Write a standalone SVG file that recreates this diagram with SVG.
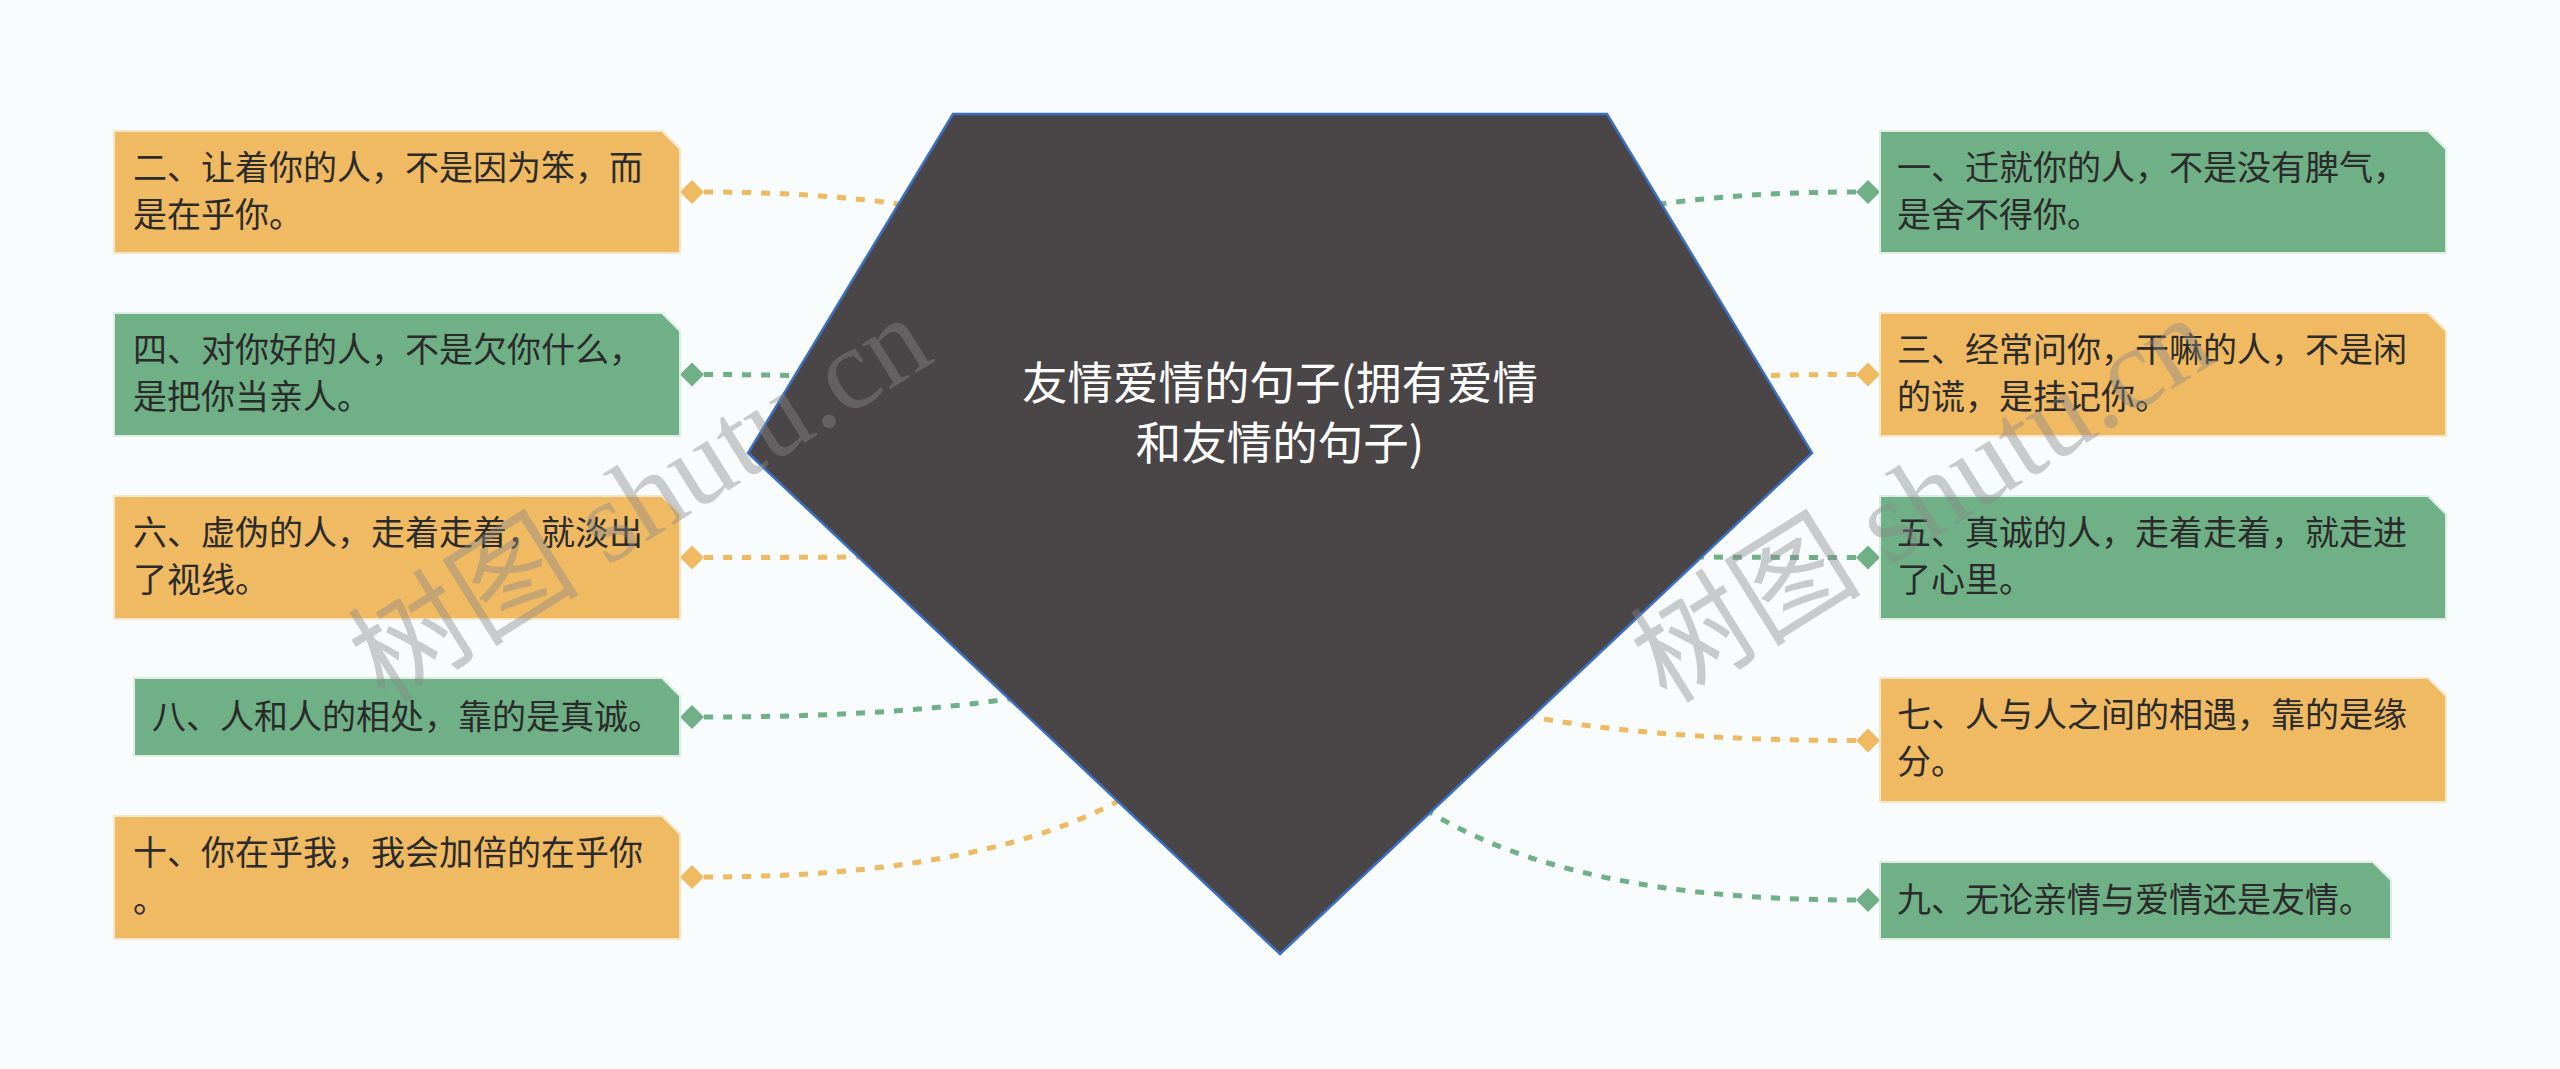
<svg xmlns="http://www.w3.org/2000/svg" width="2560" height="1069" viewBox="0 0 2560 1069">
<style>
.bg{fill:#F8FCFC}
.or{fill:#F0BA62;stroke:#F6E6C8;stroke-width:2}
.gr{fill:#70B087;stroke:#DCEDE2;stroke-width:2}
.t{font-family:"Noto Sans CJK SC","Noto Sans",sans-serif;font-size:34px;fill:#2B2B2B}
.ct{font-family:"Noto Sans CJK SC","Noto Sans",sans-serif;font-size:45.5px;fill:#FFFFFF;text-anchor:middle}
.lo{fill:none;stroke:#F0BA62;stroke-width:5;stroke-dasharray:9 10}
.lg{fill:none;stroke:#70B087;stroke-width:5;stroke-dasharray:9 10}
.dor{fill:#F0BA62}
.dgr{fill:#70B087}
.wm{font-family:"Liberation Serif","Noto Sans CJK SC",serif;font-size:116px;fill:#888888;opacity:0.42}
</style>
<rect class="bg" x="0" y="0" width="2560" height="1069"/>

<g id="connectors">
<path class="lo" d="M704 192 Q1280 192 1280 534"/>
<path class="lg" d="M704 374.5 Q1280 374.5 1280 534"/>
<path class="lo" d="M704 557.5 Q1280 557.5 1280 534"/>
<path class="lg" d="M704 717 Q1280 717 1280 534"/>
<path class="lo" d="M704 877 Q1280 877 1280 534"/>
<path class="lg" d="M1856 192 Q1280 192 1280 534"/>
<path class="lo" d="M1856 374.5 Q1280 374.5 1280 534"/>
<path class="lg" d="M1856 557.5 Q1280 557.5 1280 534"/>
<path class="lo" d="M1856 740.5 Q1280 740.5 1280 534"/>
<path class="lg" d="M1856 900 Q1280 900 1280 534"/>
<polygon class="dor" points="680,192 692,180 704,192 692,204"/>
<polygon class="dgr" points="680,374.5 692,362.5 704,374.5 692,386.5"/>
<polygon class="dor" points="680,557.5 692,545.5 704,557.5 692,569.5"/>
<polygon class="dgr" points="680,717 692,705 704,717 692,729"/>
<polygon class="dor" points="680,877 692,865 704,877 692,889"/>
<polygon class="dgr" points="1856,192 1868,180 1880,192 1868,204"/>
<polygon class="dor" points="1856,374.5 1868,362.5 1880,374.5 1868,386.5"/>
<polygon class="dgr" points="1856,557.5 1868,545.5 1880,557.5 1868,569.5"/>
<polygon class="dor" points="1856,740.5 1868,728.5 1880,740.5 1868,752.5"/>
<polygon class="dgr" points="1856,900 1868,888 1880,900 1868,912"/>
</g>

<g id="root">
<polygon points="953,114 1607,114 1812,453 1280,954 748,453" fill="#4A4647" stroke="#3B6FC4" stroke-width="2.5"/>
<text class="ct"><tspan x="1280" y="400">友情爱情的句子(拥有爱情</tspan><tspan x="1280" y="460">和友情的句子)</tspan></text>
</g>

<g id="n2">
<path class="or" d="M114 131 H662 L680 149 V253 H114 Z"/>
<text class="t"><tspan x="133" y="180">二、让着你的人，不是因为笨，而</tspan><tspan x="133" y="227">是在乎你。</tspan></text>
</g>
<g id="n4">
<path class="gr" d="M114 313 H662 L680 331 V436 H114 Z"/>
<text class="t"><tspan x="133" y="362">四、对你好的人，不是欠你什么，</tspan><tspan x="133" y="409">是把你当亲人。</tspan></text>
</g>
<g id="n6">
<path class="or" d="M114 496 H662 L680 514 V619 H114 Z"/>
<text class="t"><tspan x="133" y="545">六、虚伪的人，走着走着，就淡出</tspan><tspan x="133" y="592">了视线。</tspan></text>
</g>
<g id="n8">
<path class="gr" d="M134 678 H662 L680 696 V756 H134 Z"/>
<text class="t"><tspan x="152" y="729">八、人和人的相处，靠的是真诚。</tspan></text>
</g>
<g id="n10">
<path class="or" d="M114 816 H662 L680 834 V939 H114 Z"/>
<text class="t"><tspan x="133" y="865">十、你在乎我，我会加倍的在乎你</tspan><tspan x="133" y="912">。</tspan></text>
</g>

<g id="n1">
<path class="gr" d="M1880 131 H2428 L2446 149 V253 H1880 Z"/>
<text class="t"><tspan x="1897" y="180">一、迁就你的人，不是没有脾气，</tspan><tspan x="1897" y="227">是舍不得你。</tspan></text>
</g>
<g id="n3">
<path class="or" d="M1880 313 H2428 L2446 331 V436 H1880 Z"/>
<text class="t"><tspan x="1897" y="362">三、经常问你，干嘛的人，不是闲</tspan><tspan x="1897" y="409">的谎，是挂记你。</tspan></text>
</g>
<g id="n5">
<path class="gr" d="M1880 496 H2428 L2446 514 V619 H1880 Z"/>
<text class="t"><tspan x="1897" y="545">五、真诚的人，走着走着，就走进</tspan><tspan x="1897" y="592">了心里。</tspan></text>
</g>
<g id="n7">
<path class="or" d="M1880 678 H2428 L2446 696 V802 H1880 Z"/>
<text class="t"><tspan x="1897" y="727">七、人与人之间的相遇，靠的是缘</tspan><tspan x="1897" y="774">分。</tspan></text>
</g>
<g id="n9">
<path class="gr" d="M1880 862 H2373 L2391 880 V939 H1880 Z"/>
<text class="t"><tspan x="1897" y="912">九、无论亲情与爱情还是友情。</tspan></text>
</g>

<g id="watermark">
<text class="wm" transform="translate(385 705) rotate(-32)">树图 shutu.cn</text>
<text class="wm" transform="translate(1667 705) rotate(-32)">树图 shutu.cn</text>
</g>
</svg>
